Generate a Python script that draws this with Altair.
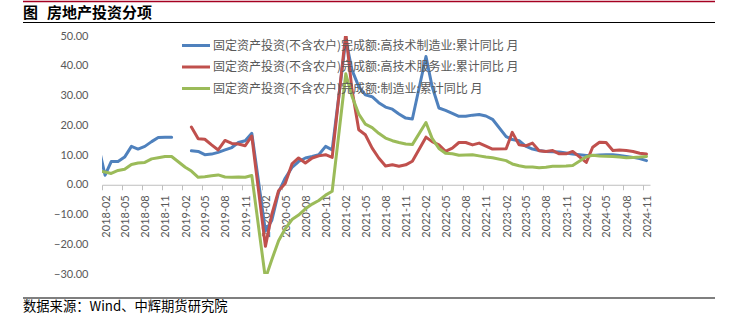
import altair as alt
import pandas as pd

# ---------------- data ----------------
months = ["2018-01"] + [f"{y}-{m:02d}" for y in range(2018, 2025) for m in range(2, 13)
                        if not (y == 2024 and m == 12)]

hi_tech_mfg = [13.4,
               3.2, 7.8, 7.8, 9.3, 12.9, 12.0, 12.9, 14.5, 15.9, 16.0, 16.0,
               None, 11.4, 11.2, 10.1, 10.3, 10.9, 11.7, 12.5, 14.2, 14.8, 17.3,
               -15.5, -12.0, -2.5, 2.2, 5.8, 7.8, 9.0, 9.5, 10.1, 12.9, 11.7,
               48.8, 38.6, 33.0, 30.2, 29.6, 27.6, 26.1, 25.4, 23.8, 22.4, 22.1,
               43.1, 33.0, 25.8, 25.0, 24.0, 23.0, 23.0, 23.4, 23.6, 23.1, 22.0,
               16.2, 15.2, 14.8, 13.0, 12.0, 11.5, 11.2, 11.1, 11.0, 10.7, 10.3,
               9.8, 9.8, 10.0, 10.1, 10.1, 9.8, 9.5, 9.2, 8.8, 8.1]

hi_tech_svc = [None,
               None, None, None, None, None, None, None, None, None, None, None,
               None, 19.4, 15.5, 15.3, 13.4, 11.7, 14.9, 13.9, 13.7, 13.1, 16.4,
               -20.7, -10.0, -2.0, 0.4, 7.0, 9.0, 7.3, 9.0, 9.7, 10.1, 9.2,
               51.0, 32.0, 18.5, 16.8, 12.3, 9.0, 6.3, 6.7, 6.2, 6.7, 7.9,
               16.0, 14.5, 13.4, 11.2, 12.3, 14.2, 14.2, 13.4, 14.0, 13.0, 12.0,
               12.1, 17.6, 13.4, 13.1, 14.0, 11.4, 11.2, 11.5, 10.4, 10.4, 11.2,
               7.5, 12.6, 14.3, 14.2, 11.5, 11.7, 11.5, 11.2, 10.6, 10.3]

manufacturing = [4.6,
                 4.3, 3.8, 4.8, 5.2, 6.8, 7.3, 7.5, 8.7, 9.1, 9.5, 9.5,
                 5.9, 4.6, 2.5, 2.7, 3.0, 3.3, 2.6, 2.5, 2.6, 2.5, 3.1,
                 -31.5, -25.2, -18.8, -14.8, -11.7, -10.2, -8.1, -6.5, -5.3, -3.5, -2.2,
                 37.3, 29.8, 23.8, 20.4, 19.2, 17.3, 15.7, 14.8, 14.2, 13.7, 13.5,
                 20.9, 15.6, 12.2, 10.6, 10.4, 9.9, 10.0, 10.1, 9.7, 9.3, 9.1,
                 8.1, 7.0, 6.4, 6.0, 6.0, 5.7, 5.9, 6.2, 6.2, 6.3, 6.5,
                 9.4, 9.9, 9.7, 9.6, 9.5, 9.3, 9.1, 9.2, 9.3, 9.5]

series_names = [
    "固定资产投资(不含农户)完成额:高技术制造业:累计同比 月",
    "固定资产投资(不含农户)完成额:高技术服务业:累计同比 月",
    "固定资产投资(不含农户)完成额:制造业:累计同比 月",
]
series_values = [hi_tech_mfg, hi_tech_svc, manufacturing]
colors = ["#4F81BD", "#C0504D", "#9BBB59"]

y_ticks = [-30, -20, -10, 0, 10, 20, 30, 40, 50]
x_tick_months = [(y, m) for y in range(2018, 2025) for m in (2, 5, 8, 11)]

title_mark = "图"
title_text = "房地产投资分项"
source_text = "数据来源：Wind、中辉期货研究院"

# ---------------- long table ----------------
rows = []
for name, vals in zip(series_names, series_values):
    seg = 0
    for mo, v in zip(months, vals):
        if v is None:
            seg += 1
            continue
        rows.append({"date": mo + "-15", "series": name, "value": v, "seg": seg})
df = pd.DataFrame(rows)

W, H = 548, 238
PL, PT = 102, 36
y_min, y_max = -30, 50
zero_px = H * (y_max - 0) / (y_max - y_min)

gray_txt = "#595959"

x_enc = alt.X(
    "date:T",
    scale=alt.Scale(type="utc",
                    domain=[alt.DateTime(year=2018, month=2, date=1, utc=True),
                            alt.DateTime(year=2024, month=12, date=1, utc=True)]),
    axis=alt.Axis(
        values=[alt.DateTime(year=y, month=m, date=1, utc=True) for y, m in x_tick_months],
        format="%Y-%m", labelAngle=-90, labelFont="Lato", labelFontSize=11,
        labelColor=gray_txt, labelOffset=4, labelPadding=5, tickSize=5,
        tickColor="#BFBFBF", domainColor="#BFBFBF", grid=False, title=None,
        offset=-(H - zero_px), labelOverlap=False, labelBound=False, labelFlush=False,
    ),
)
y_enc = alt.Y(
    "value:Q",
    scale=alt.Scale(domain=[y_min, y_max], nice=False, zero=False),
    axis=alt.Axis(values=y_ticks, format=".2f", labelFont="Lato", labelFontSize=11,
                  labelColor=gray_txt, domain=False, ticks=False, grid=False,
                  labelPadding=14, title=None),
)
color_enc = alt.Color("series:N", scale=alt.Scale(domain=series_names, range=colors), legend=None)

layers = []
for name in series_names:
    layers.append(
        alt.Chart(df).transform_filter(alt.datum.series == name)
        .mark_line(strokeWidth=3, clip=True, strokeJoin="round", strokeCap="round")
        .encode(x=x_enc, y=y_enc, color=color_enc, detail="seg:N")
    )

# manual legend
leg_y = [9.5, 31, 52.5]
for name, col, ly in zip(series_names, colors, leg_y):
    d = pd.DataFrame({"label": [name]})
    layers.append(alt.Chart(d).mark_rule(color=col, strokeWidth=3).encode(
        x=alt.value(80), x2=alt.value(108), y=alt.value(ly)))
    layers.append(alt.Chart(d).mark_text(align="left", baseline="middle", font="Noto Sans CJK SC",
                                         fontSize=12, color=gray_txt).encode(
        x=alt.value(111), y=alt.value(ly), text="label:N"))

# header / footer decorations
one = pd.DataFrame({"k": [0]})
layers.append(alt.Chart(one).mark_rule(color="#A50021", strokeWidth=1.5).encode(
    x=alt.value(-79), x2=alt.value(613), y=alt.value(-34.5)))
layers.append(alt.Chart(one).mark_rule(color="#000000", strokeWidth=1.2).encode(
    x=alt.value(-79), x2=alt.value(613), y=alt.value(-13.5)))
layers.append(alt.Chart(one).mark_rule(color="#000000", strokeWidth=1.2).encode(
    x=alt.value(-79), x2=alt.value(613), y=alt.value(262)))
layers.append(alt.Chart(pd.DataFrame({"t": [title_mark]})).mark_text(
    align="left", baseline="middle", font="Noto Sans CJK SC", fontSize=15, fontWeight="bold",
    color="#000000").encode(x=alt.value(-79), y=alt.value(-23.5), text="t:N"))
layers.append(alt.Chart(pd.DataFrame({"t": [title_text]})).mark_text(
    align="left", baseline="middle", font="Noto Sans CJK SC", fontSize=15, fontWeight="bold",
    color="#000000").encode(x=alt.value(-55), y=alt.value(-23.5), text="t:N"))
layers.append(alt.Chart(pd.DataFrame({"t": [source_text]})).mark_text(
    align="left", baseline="middle", font="Noto Sans CJK SC", fontSize=13.3,
    color="#000000").encode(x=alt.value(-79), y=alt.value(271), text="t:N"))

chart = alt.layer(*layers).properties(
    width=W, height=H,
    padding={"left": PL, "top": PT, "right": 738 - PL - W, "bottom": 325 - PT - H},
    autosize=alt.AutoSizeParams(type="none"),
    background="white",
).configure_view(stroke=None)

chart.save("out.html", embed_options={"renderer": "svg", "actions": False})
